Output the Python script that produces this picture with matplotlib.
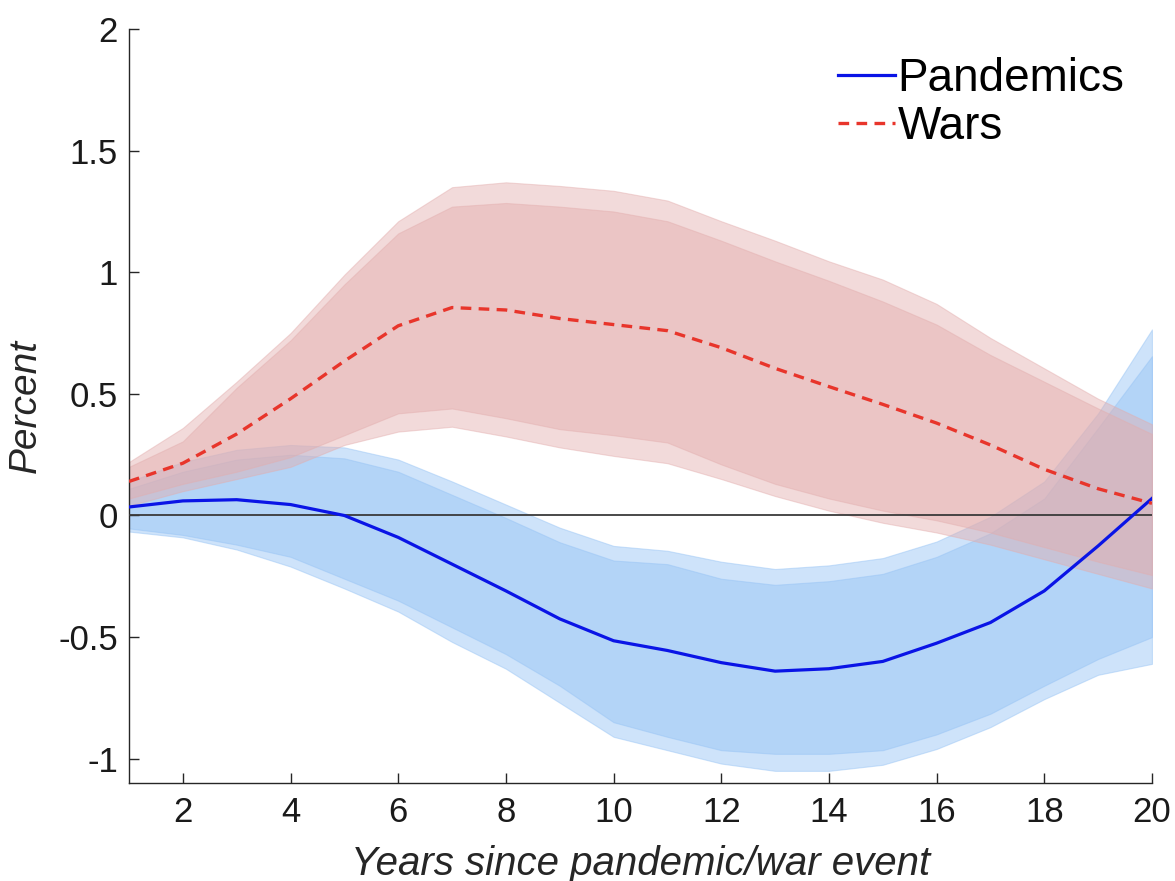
import matplotlib
matplotlib.use("Agg")
import matplotlib.pyplot as plt

plt.rcParams['font.family'] = ['Liberation Sans', 'DejaVu Sans']

years = list(range(1, 21))

# Pandemics: point estimate and two confidence bands
pand_mean = [0.035, 0.06, 0.065, 0.045, 0.0, -0.09, -0.2, -0.31, -0.425, -0.515,
             -0.555, -0.605, -0.64, -0.63, -0.6, -0.525, -0.44, -0.31, -0.125, 0.07]
pand_hi90 = [0.14, 0.22, 0.27, 0.29, 0.28, 0.23, 0.14, 0.045, -0.05, -0.125,
             -0.145, -0.19, -0.22, -0.205, -0.175, -0.107, -0.005, 0.14, 0.42, 0.765]
pand_hi68 = [0.11, 0.18, 0.23, 0.25, 0.235, 0.18, 0.085, -0.01, -0.11, -0.185,
             -0.2, -0.26, -0.285, -0.27, -0.24, -0.17, -0.073, 0.07, 0.36, 0.655]
pand_lo68 = [-0.053, -0.08, -0.12, -0.17, -0.26, -0.35, -0.46, -0.57, -0.70, -0.85,
             -0.91, -0.965, -0.98, -0.98, -0.965, -0.9, -0.815, -0.70, -0.59, -0.50]
pand_lo90 = [-0.066, -0.09, -0.14, -0.21, -0.30, -0.395, -0.52, -0.63, -0.77, -0.91,
             -0.965, -1.02, -1.05, -1.05, -1.025, -0.96, -0.87, -0.755, -0.655, -0.61]

# Wars
war_mean = [0.14, 0.215, 0.335, 0.48, 0.635, 0.78, 0.855, 0.845, 0.81, 0.785,
            0.76, 0.69, 0.605, 0.53, 0.457, 0.38, 0.29, 0.19, 0.11, 0.05]
war_hi90 = [0.22, 0.36, 0.55, 0.75, 0.99, 1.21, 1.35, 1.37, 1.355, 1.335,
            1.295, 1.21, 1.13, 1.045, 0.97, 0.87, 0.73, 0.605, 0.48, 0.375]
war_hi68 = [0.2, 0.305, 0.525, 0.72, 0.95, 1.16, 1.27, 1.285, 1.27, 1.25,
            1.21, 1.13, 1.045, 0.965, 0.88, 0.785, 0.66, 0.55, 0.44, 0.335]
war_lo68 = [0.07, 0.13, 0.18, 0.24, 0.33, 0.42, 0.44, 0.40, 0.355, 0.33,
            0.30, 0.21, 0.13, 0.07, 0.02, -0.02, -0.07, -0.13, -0.19, -0.245]
war_lo90 = [0.04, 0.10, 0.15, 0.20, 0.29, 0.345, 0.365, 0.325, 0.28, 0.245,
            0.215, 0.15, 0.08, 0.02, -0.03, -0.07, -0.12, -0.18, -0.24, -0.30]

xticks = [2, 4, 6, 8, 10, 12, 14, 16, 18, 20]
yticks = [-1, -0.5, 0, 0.5, 1, 1.5, 2]
ytick_labels = ['-1', '-0.5', '0', '0.5', '1', '1.5', '2']

blue_band = (0.58, 0.76, 0.96)
red_band = (0.89, 0.68, 0.68)
band_alpha = 0.45

fig = plt.figure(figsize=(11.75, 8.81), dpi=100)
ax = fig.add_axes([0.1098, 0.1112, 0.8706, 0.8558])

# bands (outer then inner, alpha stacks)
ax.fill_between(years, pand_lo90, pand_hi90, color=blue_band, alpha=band_alpha, lw=0.8)
ax.fill_between(years, pand_lo68, pand_hi68, color=blue_band, alpha=band_alpha, lw=0.8)
ax.fill_between(years, war_lo90, war_hi90, color=red_band, alpha=band_alpha, lw=0.8)
ax.fill_between(years, war_lo68, war_hi68, color=red_band, alpha=band_alpha, lw=0.8)

ax.axhline(0, color='#3a3a3a', lw=1.3, zorder=3)

ax.plot(years, pand_mean, color='#0a14e6', lw=2.3, label='Pandemics', zorder=4)
ax.plot(years, war_mean, color='#e8352b', lw=2.4, ls=(0, (3.2, 2.2)), label='Wars', zorder=4)

ax.set_xlim(1, 20)
ax.set_ylim(-1.1, 2)
ax.set_xticks(xticks)
ax.set_yticks(yticks)
ax.set_yticklabels(ytick_labels)

for s in ['top', 'right']:
    ax.spines[s].set_visible(False)
for s in ['left', 'bottom']:
    ax.spines[s].set_color('#262626')
    ax.spines[s].set_linewidth(1.0)

ax.tick_params(direction='in', length=7, width=1.0, color='#262626',
               labelsize=25, labelcolor='#1a1a1a')
ax.tick_params(axis='y', pad=8)
ax.tick_params(axis='x', pad=9)

ax.set_xlabel('Years since pandemic/war event', fontsize=29, style='italic',
              color='#262626', labelpad=12)
ax.set_ylabel('Percent', fontsize=28, style='italic', color='#262626', labelpad=10)

ax.legend(loc='upper right', bbox_to_anchor=(1.0, 1.0), frameon=False, fontsize=33,
          handlelength=1.25, handletextpad=0.05, labelspacing=0.1, borderpad=0.1)

fig.savefig('out.png', dpi=100)
